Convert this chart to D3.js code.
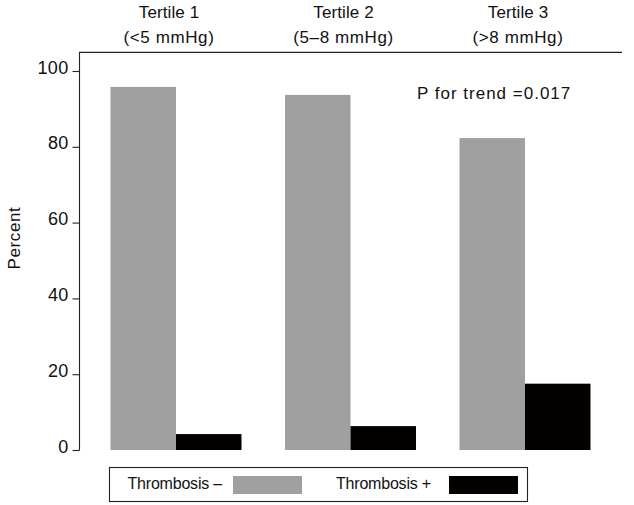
<!DOCTYPE html>
<html>
<head>
<meta charset="utf-8">
<script src="https://cdn.jsdelivr.net/npm/d3@7"></script>
<style>
  html, body { margin: 0; padding: 0; background: #fff; }
  text { font-family: "Liberation Sans", Arial, Helvetica, sans-serif; fill: #111; }
</style>
</head>
<body>
<svg id="chart" width="634" height="505"></svg>
<script>
const categories = ["Tertile 1", "Tertile 2", "Tertile 3"];
const subLabels = ["(<5 mmHg)", "(5\u20138 mmHg)", "(>8 mmHg)"];
const seriesNames = ["Thrombosis \u2013", "Thrombosis +"];
const thrombosisNeg = [95.8, 93.7, 82.3];
const thrombosisPos = [4.2, 6.3, 17.5];
const yTicks = [0, 20, 40, 60, 80, 100];
const pText = "P for trend =0.017";

const colors = ["#a0a0a0", "#050000"];
const svg = d3.select("#chart");

const y = d3.scaleLinear().domain([0, 100]).range([450, 71]);
const x = d3.scaleBand().domain(categories).range([88.75, 612.25]).padding(0);
const xi = d3.scaleBand().domain(["neg", "pos"]).range([21.75, 152.75]).padding(0);

// frame: y-axis line and top line
svg.append("line").attr("x1", 79.5).attr("x2", 79.5).attr("y1", 52).attr("y2", 450.5)
  .attr("stroke", "#222").attr("stroke-width", 1.1);
svg.append("line").attr("x1", 79).attr("x2", 622).attr("y1", 52.3).attr("y2", 52.3)
  .attr("stroke", "#222").attr("stroke-width", 1.3);

// y axis ticks
const yAxis = d3.axisLeft(y).tickValues(yTicks).tickSize(7).tickPadding(4).tickFormat(d3.format("d"));
const gy = svg.append("g").attr("transform", "translate(79.5,0)").call(yAxis);
gy.select(".domain").remove();
gy.selectAll(".tick line").attr("stroke", "#222").attr("stroke-width", 1.1);
gy.selectAll(".tick text")
  .attr("font-family", "'Liberation Sans', Arial, sans-serif")
  .attr("font-size", 18).attr("fill", "#111")
  .attr("letter-spacing", "0.3px")
  .attr("dy", "0.12em");

// y label
svg.append("text").attr("transform", "translate(19.5,238) rotate(-90)")
  .attr("text-anchor", "middle").attr("font-size", 17).attr("letter-spacing", "0.6px")
  .text("Percent");

// bars
const rows = categories.map((c, i) => ({ c, neg: thrombosisNeg[i], pos: thrombosisPos[i] }));
const g = svg.append("g");
rows.forEach(r => {
  [["neg", r.neg, colors[0]], ["pos", r.pos, colors[1]]].forEach(([k, v, col]) => {
    g.append("rect")
      .attr("x", x(r.c) + xi(k))
      .attr("y", y(v))
      .attr("width", xi.bandwidth())
      .attr("height", y(0) - y(v))
      .attr("fill", col);
  });
});

// header labels
categories.forEach((c, i) => {
  const cx = x(c) + x.bandwidth() / 2 - 7;
  svg.append("text").attr("x", cx).attr("y", 17.5).attr("text-anchor", "middle")
    .attr("font-size", 17).attr("letter-spacing", "0.1px").text(c);
  svg.append("text").attr("x", cx).attr("y", 43).attr("text-anchor", "middle")
    .attr("font-size", 17).attr("letter-spacing", "0.6px").text(subLabels[i]);
});

// P for trend
svg.append("text").attr("x", 417).attr("y", 99).attr("font-size", 17)
  .attr("letter-spacing", "1.0px").text(pText);

// legend
const lg = svg.append("g");
lg.append("rect").attr("x", 109.5).attr("y", 467.5).attr("width", 418).attr("height", 34)
  .attr("fill", "none").attr("stroke", "#222").attr("stroke-width", 1.1);
const legendItems = [
  { name: seriesNames[0], tx: 127.5, sx: 233, col: colors[0] },
  { name: seriesNames[1], tx: 336, sx: 449, col: colors[1] }
];
legendItems.forEach(it => {
  lg.append("text").attr("x", it.tx).attr("y", 488.5).attr("font-size", 16)
    .attr("letter-spacing", "-0.2px").text(it.name);
  lg.append("rect").attr("x", it.sx).attr("y", 476).attr("width", 69).attr("height", 18)
    .attr("fill", it.col);
});
</script>
</body>
</html>
